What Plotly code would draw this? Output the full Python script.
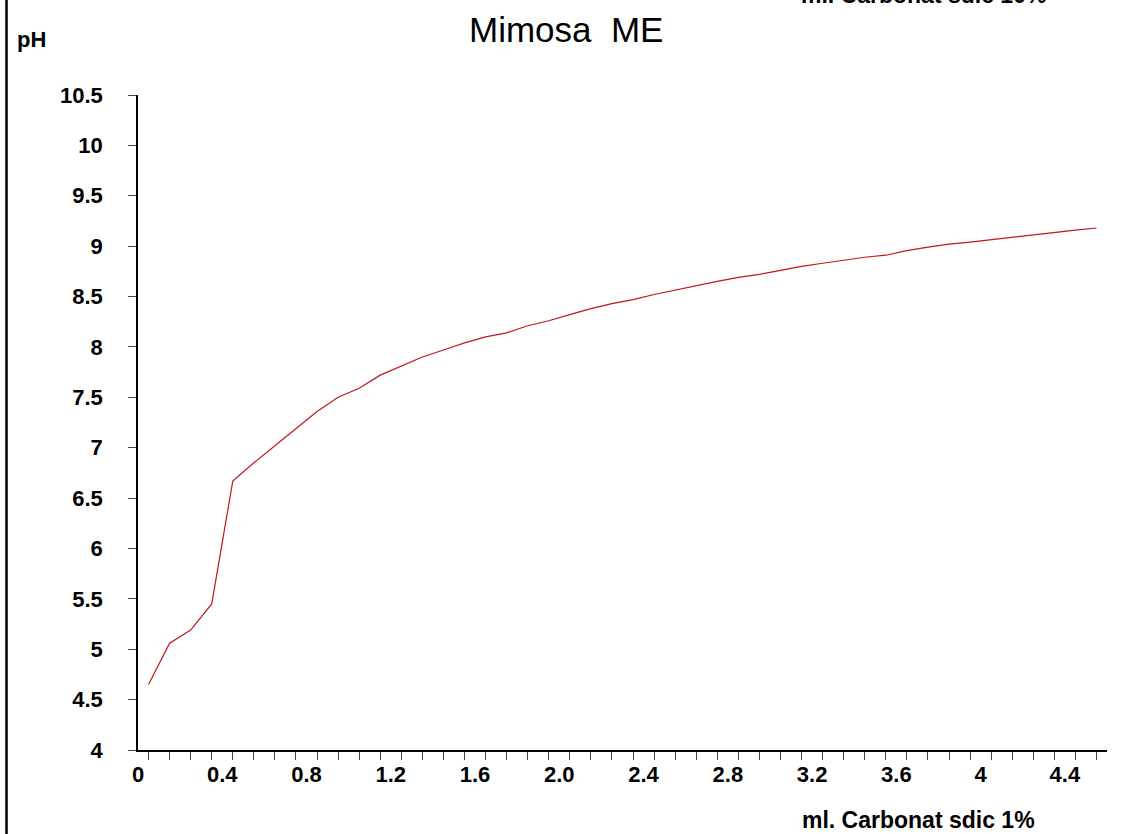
import plotly.graph_objects as go

# Data
ml_carbonat = [0.05, 0.15, 0.25, 0.35, 0.45, 0.55, 0.65, 0.75, 0.85, 0.95,
               1.05, 1.15, 1.25, 1.35, 1.45, 1.55, 1.65, 1.75, 1.85, 1.95,
               2.05, 2.15, 2.25, 2.35, 2.45, 2.55, 2.65, 2.75, 2.85, 2.95,
               3.05, 3.15, 3.25, 3.35, 3.45, 3.55, 3.65, 3.75, 3.85, 3.95,
               4.05, 4.15, 4.25, 4.35, 4.45, 4.55]
ph_values = [4.65, 5.06, 5.19, 5.45, 6.67, 6.85, 7.02, 7.19, 7.36, 7.50,
             7.59, 7.72, 7.81, 7.90, 7.97, 8.04, 8.10, 8.14, 8.21, 8.26,
             8.32, 8.38, 8.43, 8.47, 8.52, 8.565, 8.61, 8.65, 8.69, 8.72,
             8.76, 8.80, 8.83, 8.86, 8.89, 8.91, 8.955, 8.99, 9.02, 9.04,
             9.065, 9.09, 9.11, 9.14, 9.16, 9.18]

x_tick_vals = [0, 0.4, 0.8, 1.2, 1.6, 2.0, 2.4, 2.8, 3.2, 3.6, 4.0, 4.4]
x_tick_text = ["0", "0.4", "0.8", "1.2", "1.6", "2.0", "2.4", "2.8", "3.2", "3.6", "4", "4.4"]
y_tick_vals = [4, 4.5, 5, 5.5, 6, 6.5, 7, 7.5, 8, 8.5, 9, 9.5, 10, 10.5]
y_tick_text = ["4", "4.5", "5", "5.5", "6", "6.5", "7", "7.5", "8", "8.5", "9", "9.5", "10", "10.5"]

FONT = "Liberation Sans, Arial, sans-serif"

W, H = 1132, 834
PL, PT, PW, PH = 138, 95, 969, 655   # plot area in page pixels


def px(xp):
    return (xp - PL) / PW


def py(yp):
    return (PT + PH - yp) / PH


fig = go.Figure()
fig.add_trace(go.Scatter(
    x=ml_carbonat, y=ph_values, mode="lines",
    line=dict(color="#c0161e", width=1.2),
    showlegend=False, hoverinfo="x+y",
))

fig.update_layout(
    width=W, height=H,
    margin=dict(l=PL, r=W - PL - PW, t=PT, b=H - PT - PH),
    paper_bgcolor="white", plot_bgcolor="white",
    font=dict(family=FONT, color="black"),
    xaxis=dict(
        range=[0, 4.6], showgrid=False, zeroline=False,
        showline=True, linecolor="black", linewidth=1.5,
        tickmode="array", tickvals=x_tick_vals, ticktext=x_tick_text,
        ticks="", ticklabelstandoff=4,
        tickfont=dict(family=FONT, size=22, weight="bold", color="black"),
        minor=dict(tickvals=ml_carbonat, ticks="outside", ticklen=8,
                   tickcolor="#444", tickwidth=1.2),
    ),
    yaxis=dict(
        range=[4, 10.5], showgrid=False, zeroline=False,
        showline=True, linecolor="black", linewidth=1.5,
        tickmode="array", tickvals=y_tick_vals, ticktext=y_tick_text,
        ticks="outside", ticklen=8, tickcolor="#444", tickwidth=1.2,
        ticklabelstandoff=21,
        tickfont=dict(family=FONT, size=22, weight="bold", color="black"),
    ),
    annotations=[
        dict(text="Mimosa&nbsp;&nbsp;ME", xref="paper", yref="paper",
             x=px(566), y=py(29),
             xanchor="center", yanchor="middle", showarrow=False,
             font=dict(family=FONT, size=35, color="black")),
        dict(text="pH", xref="paper", yref="paper",
             x=px(31), y=py(40),
             xanchor="center", yanchor="middle", showarrow=False,
             font=dict(family=FONT, size=22, weight="bold", color="black")),
        dict(text="ml. Carbonat sdic 1%", xref="paper", yref="paper",
             x=px(918), y=py(820),
             xanchor="center", yanchor="middle", showarrow=False,
             font=dict(family=FONT, size=23, weight="bold", color="black")),
        dict(text="ml. Carbonat sdic 10%", xref="paper", yref="paper",
             x=px(923), y=py(-5),
             xanchor="center", yanchor="middle", showarrow=False,
             font=dict(family=FONT, size=23, weight="bold", color="black")),
    ],
    shapes=[
        dict(type="line", xref="paper", yref="paper",
             x0=px(6.5), x1=px(6.5),
             y0=-0.3, y1=1.3, line=dict(color="black", width=2.5)),
    ],
)

fig.write_html("out.html",
               config={"displayModeBar": False},
               post_script="document.body.style.margin='0';"
                           "document.body.style.overflow='hidden';")
